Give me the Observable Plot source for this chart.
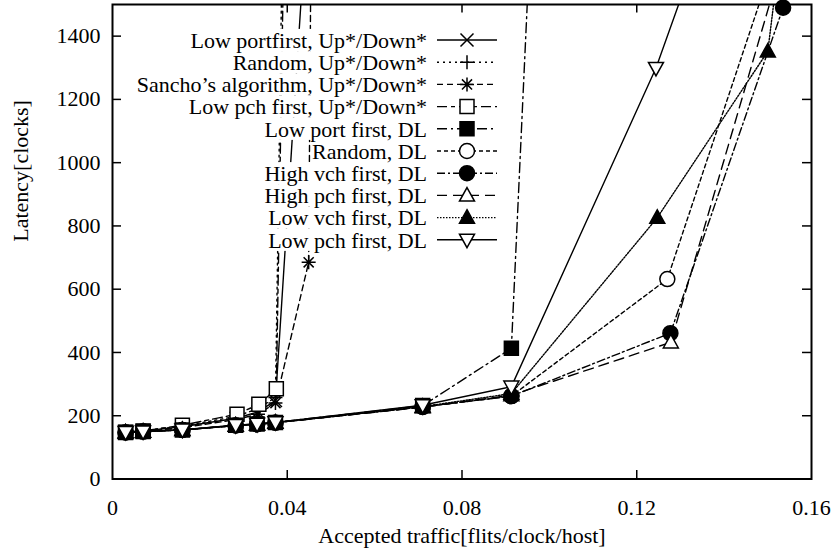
<!DOCTYPE html>
<html><head><meta charset="utf-8">
<script src="https://cdn.jsdelivr.net/npm/d3@7"></script>
<script src="https://cdn.jsdelivr.net/npm/@observablehq/plot@0.6"></script>
<style>
body{margin:0;background:#fff}
#chart{position:relative;width:835px;height:553px}
</style>
</head><body><div id="chart"></div>
<script>
// ---------- data ----------
const seriesNames = [
  "Low portfirst, Up*/Down*",
  "Random, Up*/Down*",
  "Sancho\u2019s algorithm, Up*/Down*",
  "Low pch first, Up*/Down*",
  "Low port first, DL",
  "Random, DL",
  "High vch first, DL",
  "High pch first, DL",
  "Low vch first, DL",
  "Low pch first, DL"
];
const lowPortUD_x = [0.003, 0.007, 0.016, 0.0283, 0.0333, 0.0373, 0.0445];
const lowPortUD_y = [149, 152, 165, 192, 212, 248, 1800];
const randomUD_x  = [0.003, 0.007, 0.016, 0.0283, 0.0333, 0.0373, 0.0392];
const randomUD_y  = [149, 153, 167, 198, 222, 258, 2000];
const sanchoUD_x  = [0.003, 0.007, 0.016, 0.0283, 0.0333, 0.0373, 0.0449, 0.0456];
const sanchoUD_y  = [148, 151, 162, 188, 205, 240, 685, 2000];
const lowPchUD_x  = [0.003, 0.007, 0.016, 0.0285, 0.0335, 0.0375, 0.0396];
const lowPchUD_y  = [148, 152, 170, 205, 236, 285, 2000];
const lowPortDL_x = [0.003, 0.007, 0.016, 0.0282, 0.0331, 0.0373, 0.071, 0.0913, 0.0966];
const lowPortDL_y = [147, 150, 155, 170, 174, 179, 232, 413, 2000];
const randomDL_x  = [0.003, 0.007, 0.016, 0.0282, 0.0331, 0.0373, 0.071, 0.0913, 0.127, 0.1504];
const randomDL_y  = [147, 150, 155, 169, 173, 178, 228, 262, 632, 1600];
const highVchDL_x = [0.003, 0.007, 0.016, 0.0282, 0.0331, 0.0373, 0.071, 0.0913, 0.1277, 0.1535];
const highVchDL_y = [147, 150, 155, 169, 173, 178, 228, 262, 461, 1490];
const highPchDL_x = [0.003, 0.007, 0.016, 0.0282, 0.0331, 0.0373, 0.071, 0.0913, 0.1278, 0.1546];
const highPchDL_y = [147, 150, 155, 169, 173, 178, 227, 265, 432, 1700];
const lowVchDL_x  = [0.003, 0.007, 0.016, 0.0282, 0.0331, 0.0373, 0.071, 0.0913, 0.1247, 0.150, 0.1531];
const lowVchDL_y  = [147, 150, 155, 169, 173, 178, 229, 270, 826, 1352, 1700];
const lowPchDL_x  = [0.003, 0.007, 0.016, 0.0282, 0.0331, 0.0373, 0.071, 0.0913, 0.1244, 0.1425];
const lowPchDL_y  = [148, 150, 156, 170, 174, 179, 233, 292, 1299, 2000];

const xTicks = [0, 0.04, 0.08, 0.12, 0.16];
const xTickLabels = ["0", "0.04", "0.08", "0.12", "0.16"];
const yTicks = [0, 200, 400, 600, 800, 1000, 1200, 1400];
const yTickLabels = ["0", "200", "400", "600", "800", "1000", "1200", "1400"];
const xTitle = "Accepted traffic[flits/clock/host]";
const yTitle = "Latency[clocks]";

// ---------- symbols ----------
function sym(fn){ return {draw(c, size){ const r = Math.sqrt(size/Math.PI); fn(c, r); }}; }
const symTimes = sym((c,r)=>{c.moveTo(-r,-r);c.lineTo(r,r);c.moveTo(-r,r);c.lineTo(r,-r);});
const symPlus  = sym((c,r)=>{c.moveTo(-r,0);c.lineTo(r,0);c.moveTo(0,-r);c.lineTo(0,r);});
const symStar  = sym((c,r)=>{const d=r*0.72;c.moveTo(-r,0);c.lineTo(r,0);c.moveTo(0,-r);c.lineTo(0,r);c.moveTo(-d,-d);c.lineTo(d,d);c.moveTo(-d,d);c.lineTo(d,-d);});
const symSquare= sym((c,r)=>{c.moveTo(-r,-r);c.lineTo(r,-r);c.lineTo(r,r);c.lineTo(-r,r);c.closePath();});
const symCircle= sym((c,r)=>{c.moveTo(r,0);c.arc(0,0,r,0,2*Math.PI);c.closePath();});
const symTri   = sym((c,r)=>{c.moveTo(0,-r*1.05);c.lineTo(r,r*0.75);c.lineTo(-r,r*0.75);c.closePath();});
const symTriDn = sym((c,r)=>{c.moveTo(0,r*1.05);c.lineTo(r,-r*0.75);c.lineTo(-r,-r*0.75);c.closePath();});

const xs = [lowPortUD_x, randomUD_x, sanchoUD_x, lowPchUD_x, lowPortDL_x, randomDL_x, highVchDL_x, highPchDL_x, lowVchDL_x, lowPchDL_x];
const ys = [lowPortUD_y, randomUD_y, sanchoUD_y, lowPchUD_y, lowPortDL_y, randomDL_y, highVchDL_y, highPchDL_y, lowVchDL_y, lowPchDL_y];
const styles = [
  {dash: null, symbol: symTimes, fill: "none", r: 6.5},
  {dash: "2,4", symbol: symPlus, fill: "none", r: 7},
  {dash: "6,4", symbol: symStar, fill: "none", r: 7},
  {dash: "10,4,4,4", symbol: symSquare, fill: "white", r: 7},
  {dash: "10,4,2,4", symbol: symSquare, fill: "black", r: 7},
  {dash: "4,3", symbol: symCircle, fill: "white", r: 7.5},
  {dash: "8,3,2,3", symbol: symCircle, fill: "black", r: 7.5},
  {dash: "10,6", symbol: symTri, fill: "white", r: 7.5},
  {dash: "1.5,1.5", symbol: symTri, fill: "black", r: 7.5},
  {dash: null, symbol: symTriDn, fill: "white", r: 7.5}
];

const rows = [];
seriesNames.forEach((name, i) => xs[i].forEach((x, j) => rows.push({series: i, name, x, y: ys[i][j]})));

const FONT = "'Liberation Serif', 'Times New Roman', serif";
const FS = 22;

const marks = [];
seriesNames.forEach((name, i) => {
  const data = rows.filter(d => d.series === i);
  const s = styles[i];
  marks.push(Plot.line(data, {x: "x", y: "y", stroke: "black", strokeWidth: 1.4,
    strokeDasharray: s.dash || undefined, clip: true}));
});
seriesNames.forEach((name, i) => {
  const data = rows.filter(d => d.series === i && d.y <= 1500);
  const s = styles[i];
  marks.push(Plot.dot(data, {x: "x", y: "y", symbol: s.symbol, r: s.r, fill: s.fill,
    stroke: "black", strokeWidth: 1.5}));
});

const chart = Plot.plot({
  width: 835, height: 553,
  marginLeft: 112, marginRight: 24, marginTop: 4, marginBottom: 74.5,
  x: {domain: [0, 0.16]},
  y: {domain: [0, 1500]},
  style: {fontFamily: FONT, fontSize: FS + "px", color: "black", background: "white"},
  marks: [
    Plot.axisX(xTicks, {tickSize: 0, tickPadding: 20, fontSize: FS, label: null,
      tickFormat: (d) => xTickLabels[xTicks.indexOf(d)]}),
    Plot.axisY(yTicks, {tickSize: 0, tickPadding: 12, fontSize: FS, label: null,
      tickFormat: (d) => yTickLabels[yTicks.indexOf(d)]}),
    ...marks,
    Plot.tickX(xTicks.slice(1, -1), {x: d => d, insetTop: 466, stroke: "black", strokeWidth: 1.5}),
    Plot.tickX(xTicks.slice(1, -1), {x: d => d, insetBottom: 466, stroke: "black", strokeWidth: 1.5}),
    Plot.tickY(yTicks.slice(1), {y: d => d, insetRight: 690, stroke: "black", strokeWidth: 1.5}),
    Plot.tickY(yTicks.slice(1), {y: d => d, insetLeft: 690, stroke: "black", strokeWidth: 1.5}),
    Plot.frame({stroke: "black", strokeWidth: 2}),
    Plot.text([xTitle], {frameAnchor: "bottom", dy: 64, fontSize: FS, fill: "black"}),
    Plot.text([yTitle], {frameAnchor: "left", dx: -92, rotate: -90, fontSize: FS, fill: "black"})
  ]
});
document.getElementById("chart").appendChild(chart);

// ---------- legend (layout in pixels) ----------
const svg = d3.select(chart);
const lg = svg.append("g").attr("font-family", FONT).attr("font-size", FS);
const textRight = 427, lineX1 = 437, lineX2 = 497, rowY0 = 40, rowStep = 22.2;
const bgLayer = lg.append("g");
const fgLayer = lg.append("g");
seriesNames.forEach((name, i) => {
  const cy = rowY0 + i * rowStep;
  const t = fgLayer.append("text").attr("x", textRight).attr("y", cy).attr("dy", "0.35em")
    .attr("text-anchor", "end").attr("fill", "black").text(name);
  const bb = t.node().getBBox();
  bgLayer.append("rect").attr("x", bb.x - 1).attr("y", cy - rowStep / 2).attr("width", bb.width + 2)
    .attr("height", rowStep).attr("fill", "white");
  const s = styles[i];
  fgLayer.append("line").attr("x1", lineX1).attr("x2", lineX2).attr("y1", cy).attr("y2", cy)
    .attr("stroke", "black").attr("stroke-width", 1.4).attr("stroke-dasharray", s.dash || null);
  fgLayer.append("path").attr("transform", `translate(${(lineX1 + lineX2) / 2},${cy})`)
    .attr("d", d3.symbol(s.symbol, s.r * s.r * Math.PI)())
    .attr("fill", s.fill).attr("stroke", "black").attr("stroke-width", 1.5);
});
</script>
</body></html>
